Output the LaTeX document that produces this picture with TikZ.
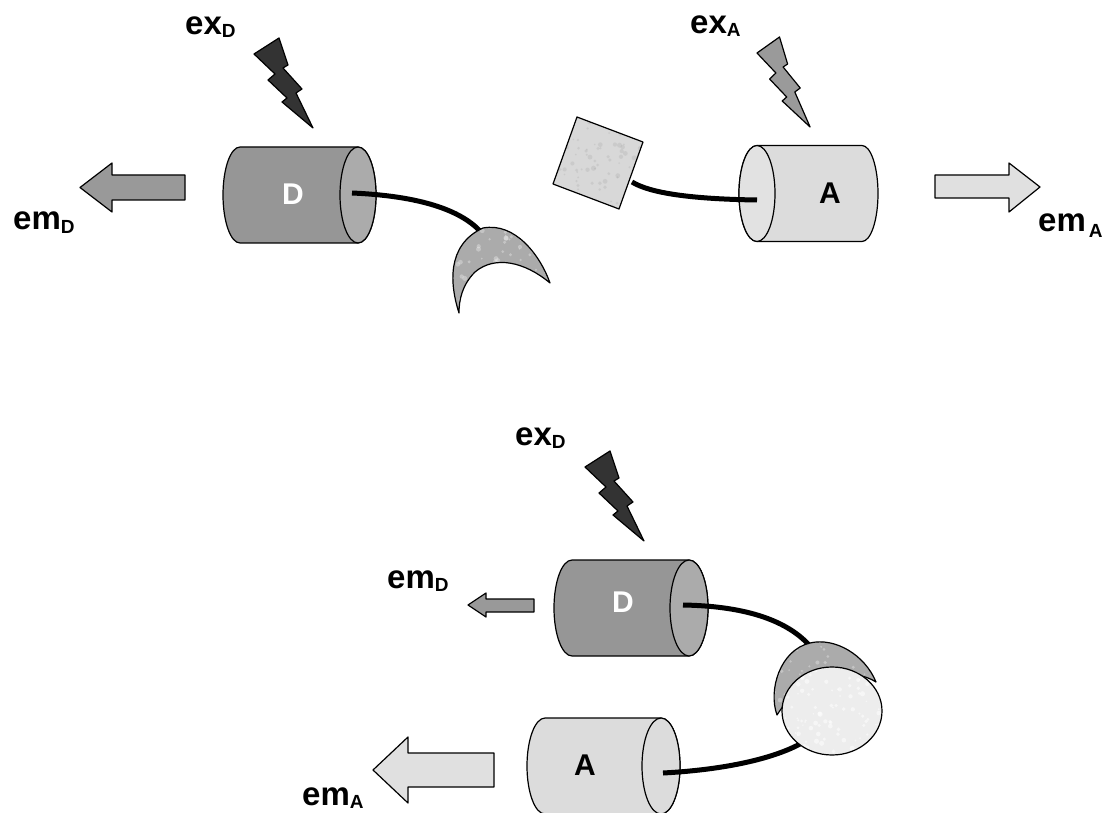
\documentclass[tikz,border=0pt]{standalone}
\usepackage{fontspec}
\setmainfont{Liberation Sans}
\definecolor{donorbody}{HTML}{969696}
\definecolor{donorface}{HTML}{ABABAB}
\definecolor{accbody}{HTML}{DCDCDC}
\definecolor{accface}{HTML}{E2E2E2}
\definecolor{boltdark}{HTML}{333333}
\definecolor{boltgray}{HTML}{9A9A9A}
\definecolor{emdonor}{HTML}{999999}
\definecolor{emacc}{HTML}{E0E0E0}
\definecolor{dyeq}{HTML}{ABABAB}
\definecolor{marble}{HTML}{D8D8D8}
\definecolor{bead}{HTML}{EDEDED}

% label with a bold base and a small lowered subscript
\newcommand{\lab}[3][3pt]{\fontsize{33}{33}\selectfont\bfseries #2\raisebox{-#1}{\fontsize{19}{19}\selectfont #3}}

% cylinder body: #1 left centre x, #2 right centre x, #3 centre y,
% #4 left radius, #5 right radius, #6 style
\newcommand{\cylbody}[6]{%
  \path[#6] (#1,#3-48) -- (#2,#3-48)
    arc[start angle=-90,end angle=90,x radius=#5,y radius=48]
    -- (#1,#3+48)
    arc[start angle=90,end angle=270,x radius=#4,y radius=48] -- cycle;}

% mottled fill: #1 clip path, #2 base colour, #3 dot colour, #4 opacity,
% #5 dot count, #6 xmin, #7 ymin, #8 box size
\newcommand{\mottle}[8]{%
  \begin{scope}
    \clip #1;
    \fill[#2] (#6,#7) rectangle ++(#8,#8);
    \foreach \k in {1,...,#5}{%
      \pgfmathsetmacro\px{#6+rnd*#8}%
      \pgfmathsetmacro\py{#7+rnd*#8}%
      \pgfmathsetmacro\pr{0.8+rnd*1.8}%
      \fill[#3,opacity=#4] (\px,\py) circle (\pr);
    }
  \end{scope}}

\def\crescentTop{(459,313) .. controls (450,285) and (446,245) .. (483,228)
  .. controls (515,222) and (540,255) .. (550,283)
  .. controls (525,262) and (495,255) .. (475,272)
  .. controls (462,285) and (459,300) .. (459,313) -- cycle}
\def\crescentBot{(777,715) .. controls (768,690) and (780,650) .. (810,643)
  .. controls (835,637) and (865,655) .. (876,682)
  .. controls (855,668) and (805,670) .. (777,715) -- cycle}
\def\squarePath{(577,117) -- (643,142) -- (619,209) -- (553,184) -- cycle}
\def\beadPath{(832,711) ellipse [x radius=50,y radius=44]}

\tikzset{
  outline/.style={draw=black,line width=1.2pt},
  tether/.style={draw=black,line width=5pt},
  bolt/.pic={\path[pic actions] (0,0) -- (25,-16) -- (34,11) -- (29,14)
      -- (48,35) -- (42,39) -- (59,74) -- (28,48) -- (33,44) -- (14,26)
      -- (21,20) -- cycle;},
  cyltext/.style={font=\fontsize{30}{30}\selectfont\bfseries,inner sep=0pt},
  lbl/.style={anchor=base west,inner sep=0pt}
}

\begin{document}
\begin{tikzpicture}[x=1pt,y=-1pt,line join=round]
\useasboundingbox (0,0) rectangle (1106,813);
\clip (0,0) rectangle (1106,813);
\pgfmathsetseed{7}

% ---------- free donor (top left) ----------
\pic[fill=boltdark,outline] (boltDtop) at (254,54) {bolt};
\node[lbl] (exDtop) at (185,35) {\lab{ex}{D}};
\draw[outline,fill=emdonor] (185,175) -- (112,175) -- (112,163) -- (80,187.5)
  -- (112,212) -- (112,200) -- (185,200) -- cycle;
\node[lbl] (emDtop) at (13,230) {\lab{em}{D}};
\cylbody{240}{358}{195}{17}{18}{outline,fill=donorbody}
\path[outline,fill=donorface] (358,195) ellipse [x radius=18,y radius=48];
\node[cyltext,text=white] (Dtop) at (293,194) {D};
\coordinate (Dtopend) at (352,193);
\coordinate (crTop) at (480,231);
\draw[tether] (Dtopend) .. controls (420,196) and (460,210) .. (crTop);
\mottle{\crescentTop}{dyeq}{black}{0.25}{650}{440}{215}{120}
\mottle{\crescentTop}{dyeq}{white}{0.3}{150}{440}{215}{120}
\draw[outline] \crescentTop;

% ---------- free acceptor (top right) ----------
\pic[fill=boltgray,outline,xscale=0.9] (boltAtop) at (757,53) {bolt};
\node[lbl] (exAtop) at (690,34) {\lab{ex}{A}};
\cylbody{757}{862}{193.5}{18}{16}{outline,fill=accbody}
\path[outline,fill=accface] (757,193.5) ellipse [x radius=18,y radius=48];
\node[cyltext] (Atop) at (830,193) {A};
\coordinate (sqEnd) at (632,182);
\coordinate (Atopend) at (757,200);
\draw[tether] (sqEnd) .. controls (650,193) and (690,199) .. (Atopend);
\mottle{\squarePath}{marble}{white}{0.35}{180}{550}{114}{96}
\mottle{\squarePath}{marble}{gray}{0.15}{120}{550}{114}{96}
\draw[outline] \squarePath;
\draw[outline,fill=emacc] (935,175) -- (1009,175) -- (1009,163) -- (1040,187)
  -- (1009,212) -- (1009,198) -- (935,198) -- cycle;
\node[lbl] (emAtop) at (1038,232) {\lab[6pt]{em\hspace{3pt}}{A}};

% ---------- linked pair (bottom) ----------
\pic[fill=boltdark,outline] (boltDbot) at (585,467) {bolt};
\node[lbl] (exDbot) at (515,445) {\lab{ex}{D}};
\node[lbl] (emDbot) at (387,588) {\lab{em}{D}};
\draw[outline,fill=emdonor] (534,599) -- (486,599) -- (486,593) -- (468,605)
  -- (486,617) -- (486,612) -- (534,612) -- cycle;
\cylbody{572}{689}{608}{18}{19}{outline,fill=donorbody}
\path[outline,fill=donorface] (689,608) ellipse [x radius=19,y radius=48];
\node[cyltext,text=white] (Dbot) at (623,602) {D};
\coordinate (Dbotend) at (683,605);
\coordinate (crBot) at (810,646);
\draw[tether] (Dbotend) .. controls (740,606) and (785,618) .. (crBot);

\cylbody{545}{661}{766}{18}{19}{outline,fill=accbody}
\path[outline,fill=accbody] (661,766) ellipse [x radius=19,y radius=48];
\node[cyltext] (Abot) at (585,765) {A};
\coordinate (Abotend) at (663,773);
\coordinate (beadEnd) at (800,744);
\draw[tether] (Abotend) .. controls (720,770) and (770,760) .. (beadEnd);
\draw[outline,fill=emacc] (494,753) -- (408,753) -- (408,737) -- (373,770)
  -- (408,803) -- (408,787) -- (494,787) -- cycle;
\node[lbl] (emAbot) at (302,805) {\lab{em}{A}};

\mottle{\crescentBot}{dyeq}{black}{0.25}{650}{760}{630}{125}
\mottle{\crescentBot}{dyeq}{white}{0.3}{150}{760}{630}{125}
\draw[outline] \crescentBot;
\mottle{\beadPath}{bead}{gray}{0.12}{260}{780}{665}{105}
\mottle{\beadPath}{bead}{white}{0.5}{120}{780}{665}{105}
\draw[outline] \beadPath;
\end{tikzpicture}
\end{document}
